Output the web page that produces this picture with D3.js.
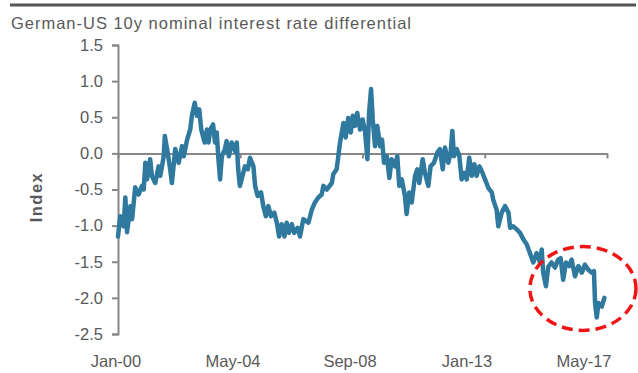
<!DOCTYPE html>
<html>
<head>
<meta charset="utf-8">
<script src="https://cdn.jsdelivr.net/npm/d3@7"></script>
<style>
  html, body { margin: 0; padding: 0; background: #fff; }
  svg { display: block; font-family: "Liberation Sans", Arial, sans-serif; }
</style>
</head>
<body>
<svg id="chart" width="638" height="373"></svg>
<script>
// German-US 10y nominal yield spread (percentage points), sampled in decimal years
const years = [
  2000.00, 2000.08, 2000.20, 2000.26, 2000.32, 2000.44, 2000.50, 2000.61, 2000.73, 2000.85,
  2000.91, 2000.97, 2001.03, 2001.14, 2001.20, 2001.32, 2001.44, 2001.50, 2001.62, 2001.66,
  2001.74, 2001.85, 2001.91, 2002.03, 2002.15, 2002.27, 2002.33, 2002.45, 2002.56, 2002.62,
  2002.72, 2002.80, 2002.88, 2002.95, 2003.07, 2003.15, 2003.21, 2003.27, 2003.37, 2003.44,
  2003.50, 2003.56, 2003.62, 2003.68, 2003.79, 2003.85, 2003.93, 2004.03, 2004.15, 2004.21,
  2004.26, 2004.32, 2004.44, 2004.50, 2004.60, 2004.68, 2004.80, 2004.86, 2004.95, 2005.07,
  2005.15, 2005.24, 2005.33, 2005.42, 2005.54, 2005.63, 2005.71, 2005.80, 2005.90, 2005.98,
  2006.06, 2006.16, 2006.25, 2006.37, 2006.45, 2006.57, 2006.75, 2006.87, 2006.98, 2007.10,
  2007.22, 2007.28, 2007.40, 2007.58, 2007.63, 2007.75, 2007.81, 2007.87, 2007.99, 2008.07,
  2008.16, 2008.25, 2008.32, 2008.40, 2008.48, 2008.58, 2008.67, 2008.76, 2008.84, 2008.90,
  2008.97, 2009.03, 2009.11, 2009.19, 2009.29, 2009.36, 2009.43, 2009.53, 2009.62, 2009.70,
  2009.82, 2009.90, 2009.97, 2010.06, 2010.17, 2010.23, 2010.32, 2010.41, 2010.53, 2010.61,
  2010.68, 2010.80, 2010.88, 2011.00, 2011.08, 2011.20, 2011.32, 2011.41, 2011.51, 2011.59,
  2011.71, 2011.79, 2011.85, 2011.91, 2012.01, 2012.10, 2012.18, 2012.27, 2012.36, 2012.45,
  2012.54, 2012.63, 2012.71, 2012.81, 2012.89, 2013.01, 2013.13, 2013.25, 2013.30, 2013.42,
  2013.48, 2013.60, 2013.72, 2013.84, 2013.90, 2014.01, 2014.13, 2014.25, 2014.37, 2014.49,
  2014.60, 2014.72, 2014.84, 2014.96, 2015.02, 2015.07, 2015.17, 2015.25, 2015.37, 2015.49,
  2015.60, 2015.69, 2015.78, 2015.88, 2016.00, 2016.08, 2016.20, 2016.32, 2016.44, 2016.55,
  2016.67, 2016.79, 2016.87, 2016.91, 2016.97, 2017.03, 2017.15, 2017.24
];
const spread = [
  -1.15, -0.87, -1.01, -0.61, -1.09, -0.73, -0.91, -0.47, -0.57, -0.45,
  -0.50, -0.13, -0.36, -0.08, -0.31, -0.41, -0.18, -0.31, -0.04, 0.24,
  0.06, -0.22, -0.41, 0.06, -0.13, 0.10, -0.04, 0.19, 0.33, 0.52,
  0.70, 0.52, 0.61, 0.33, 0.15, 0.33, 0.15, 0.33, 0.40, 0.15,
  0.29, -0.08, -0.36, -0.04, 0.06, 0.17, -0.04, 0.15, 0.03, 0.15,
  -0.22, -0.45, -0.27, -0.18, -0.22, -0.06, -0.18, -0.45, -0.59, -0.54,
  -0.73, -0.87, -0.73, -0.87, -0.82, -0.96, -1.15, -0.98, -1.15, -0.96,
  -1.10, -0.98, -1.10, -1.03, -1.15, -0.91, -0.96, -0.78, -0.68, -0.61,
  -0.57, -0.45, -0.50, -0.41, -0.29, -0.22, -0.04, 0.15, 0.42, 0.22,
  0.49, 0.29, 0.52, 0.38, 0.56, 0.33, 0.47, 0.29, -0.08, 0.56,
  0.89, 0.47, 0.10, 0.38, 0.10, 0.19, -0.13, -0.04, -0.34, -0.08,
  -0.18, -0.04, -0.45, -0.36, -0.59, -0.84, -0.54, -0.68, -0.31, -0.22,
  -0.41, -0.08, -0.27, -0.45, -0.18, -0.13, 0.01, 0.06, -0.22, 0.08,
  -0.13, 0.01, 0.31, -0.04, 0.06, -0.04, -0.36, -0.27, -0.36, -0.06,
  -0.31, -0.15, -0.31, -0.18, -0.24, -0.36, -0.48, -0.54, -0.64, -0.78,
  -1.01, -0.82, -0.73, -0.82, -1.03, -1.01, -1.05, -1.10, -1.19, -1.26,
  -1.38, -1.51, -1.38, -1.51, -1.33, -1.65, -1.84, -1.57, -1.51, -1.58,
  -1.47, -1.45, -1.75, -1.51, -1.56, -1.47, -1.70, -1.56, -1.65, -1.54,
  -1.61, -1.65, -1.63, -2.07, -2.27, -2.07, -2.12, -2.00
];

// Axis ticks
const yTicks = [1.5, 1.0, 0.5, 0.0, -0.5, -1.0, -1.5, -2.0, -2.5];
const yTickLabels = ["1.5", "1.0", "0.5", "0.0", "-0.5", "-1.0", "-1.5", "-2.0", "-2.5"];
const xTicks = [2000, 2004 + 4 / 12, 2008 + 8 / 12, 2013, 2017 + 4 / 12];
const xTickLabels = ["Jan-00", "May-04", "Sep-08", "Jan-13", "May-17"];

const titleText = "German-US 10y nominal interest rate differential";
const yTitle = "Index";

const svg = d3.select("#chart");
const axisGrey = "#878787";
const textGrey = "#595959";
const lineBlue = "#2f799e";

const x = d3.scaleLinear().domain([2000, 2017 + 4 / 12]).range([118, 607]);
const y = d3.scaleLinear().domain([-2.5, 1.5]).range([334, 45]);
// category labels sit on their own evenly spaced row beneath the plot
const xLabelPos = d3.scalePoint().domain(xTickLabels).range([116, 584]);

// top rule
svg.append("line")
  .attr("x1", 10).attr("x2", 636).attr("y1", 5).attr("y2", 5)
  .attr("stroke", "#555").attr("stroke-width", 3);

// title
svg.append("text")
  .attr("x", 11).attr("y", 29)
  .attr("fill", textGrey).attr("font-size", 16.5)
  .attr("textLength", 400).attr("lengthAdjust", "spacing")
  .text(titleText);

// y axis
const yAxis = d3.axisLeft(y)
  .tickValues(yTicks)
  .tickFormat((d, i) => yTickLabels[i])
  .tickSize(6).tickPadding(9);
const gy = svg.append("g").attr("transform", `translate(${x(2000)},0)`).call(yAxis);
gy.select(".domain").attr("stroke", axisGrey).attr("stroke-width", 2);
gy.selectAll(".tick line").attr("stroke", axisGrey).attr("stroke-width", 2);
gy.selectAll(".tick text").attr("fill", textGrey).attr("font-size", 16.5)
  .attr("font-family", "Liberation Sans, Arial, sans-serif");

// zero line with date ticks
const xAxis = d3.axisBottom(x).tickValues(xTicks).tickFormat("").tickSize(5).tickSizeOuter(0);
const gx = svg.append("g").attr("transform", `translate(0,${y(0)})`).call(xAxis);
gx.select(".domain").attr("stroke", axisGrey).attr("stroke-width", 2);
gx.selectAll(".tick line").attr("stroke", axisGrey).attr("stroke-width", 2);

// date labels
svg.append("g").selectAll("text").data(xTickLabels).join("text")
  .attr("x", d => xLabelPos(d)).attr("y", 367)
  .attr("text-anchor", "middle")
  .attr("fill", textGrey).attr("font-size", 16.5)
  .text(d => d);

// y title
svg.append("text")
  .attr("transform", "translate(42,197) rotate(-90)")
  .attr("text-anchor", "middle")
  .attr("fill", textGrey).attr("font-size", 16.5).attr("font-weight", "bold")
  .attr("letter-spacing", 1.5)
  .text(yTitle);

// spread series
const series = years.map((t, i) => ({ t, v: spread[i] }));
svg.append("path")
  .datum(series)
  .attr("fill", "none")
  .attr("stroke", lineBlue)
  .attr("stroke-width", 4.5)
  .attr("stroke-linejoin", "round")
  .attr("stroke-linecap", "round")
  .attr("d", d3.line().x(d => x(d.t)).y(d => y(d.v)));

// highlight ring around the latest readings
const ringFrom = 2014.6, ringTo = 2018.36;
svg.append("ellipse")
  .attr("cx", (x(ringFrom) + x(ringTo)) / 2)
  .attr("cy", y(-1.87))
  .attr("rx", (x(ringTo) - x(ringFrom)) / 2)
  .attr("ry", y(-2.45) - y(-1.87))
  .attr("fill", "none")
  .attr("stroke", "#f01414")
  .attr("stroke-width", 3.5)
  .attr("stroke-dasharray", "11,6");
</script>
</body>
</html>
